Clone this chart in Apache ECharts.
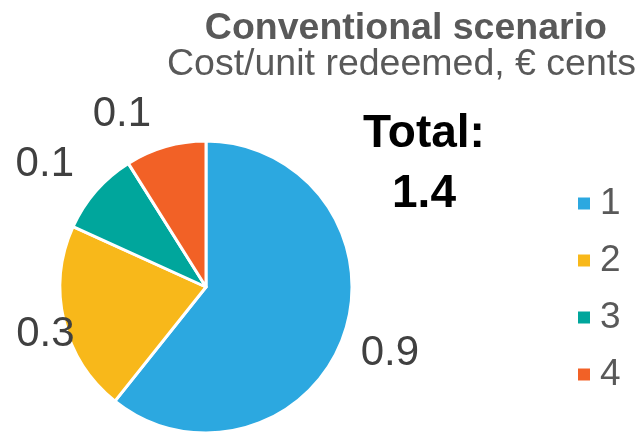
<!DOCTYPE html>
<html>
<head>
<meta charset="utf-8">
<script src="https://cdn.jsdelivr.net/npm/echarts@6/dist/echarts.min.js"></script>
<style>
  html, body { margin: 0; padding: 0; background: #fff; }
  #chart { width: 642px; height: 432px; }
</style>
</head>
<body>
<div id="chart"></div>
<script>
  // values (labels as printed, rounded)
  var categories = ['1', '2', '3', '4'];
  var values = [0.85, 0.295, 0.13, 0.125];
  var sliceLabels = ['0.9', '0.3', '0.1', '0.1'];
  var colors = ['#2CA8E0', '#F8B81A', '#00A69C', '#F26126'];
  // small label nudges to match the original placement
  var labelNudge = [[-2, 12], [30, 9], [-7, -13], [-9, -13]];

  var total = values.reduce(function (a, b) { return a + b; }, 0);
  var font = '"Liberation Sans", Arial, sans-serif';

  var chart = echarts.init(document.getElementById('chart'));
  var option = {
    backgroundColor: '#ffffff',
    animation: false,
    color: colors,
    title: [{
      text: 'Conventional scenario',
      right: 35,
      top: 10,
      padding: 0,
      textStyle: { fontFamily: font, fontSize: 37.5, fontWeight: 'bold', color: '#595959' }
    }, {
      text: 'Cost/unit redeemed, € cents',
      right: 6,
      top: 46,
      padding: 0,
      textStyle: { fontFamily: font, fontSize: 37.5, fontWeight: 'normal', color: '#595959' }
    }, {
      text: 'Total:\n' + total.toFixed(1),
      left: 424,
      top: 104,
      padding: 0,
      textAlign: 'center',
      textStyle: { fontFamily: font, fontSize: 46, fontWeight: 'bold', color: '#000000', lineHeight: 60 }
    }],
    legend: {
      orient: 'vertical',
      left: 576,
      top: 185,
      padding: 0,
      icon: 'rect',
      itemWidth: 14,
      itemHeight: 14,
      itemGap: 20,
      data: categories,
      textStyle: { fontFamily: font, fontSize: 37, color: '#595959', padding: [0, 0, 0, 4] }
    },
    series: [{
      type: 'pie',
      center: [206, 287],
      radius: 146,
      startAngle: 90,
      clockwise: true,
      avoidLabelOverlap: false,
      itemStyle: { borderColor: '#ffffff', borderWidth: 3 },
      label: {
        show: true,
        position: 'outside',
        distanceToLabelLine: 0,
        fontFamily: font,
        fontSize: 42,
        color: '#404040',
        formatter: function (p) { return sliceLabels[p.dataIndex]; }
      },
      labelLine: { show: false, length: 20, length2: 0 },
      labelLayout: function (p) {
        return { dx: labelNudge[p.dataIndex][0], dy: labelNudge[p.dataIndex][1] };
      },
      data: categories.map(function (c, i) {
        return { name: c, value: values[i] };
      })
    }]
  };
  chart.setOption(option);
</script>
</body>
</html>
